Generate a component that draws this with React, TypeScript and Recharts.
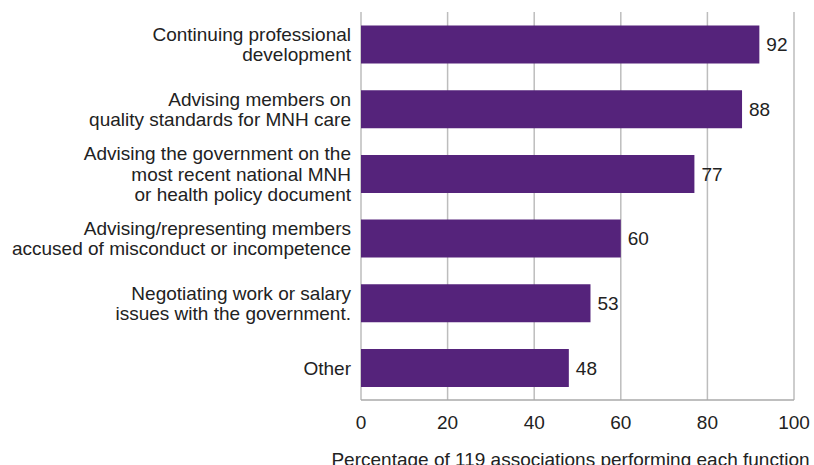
import React from "react";
import { BarChart, Bar, XAxis, YAxis, CartesianGrid, LabelList } from "recharts";

const categories = [
  "Continuing professional\ndevelopment",
  "Advising members on\nquality standards for MNH care",
  "Advising the government on the\nmost recent national MNH\nor health policy document",
  "Advising/representing members\naccused of misconduct or incompetence",
  "Negotiating work or salary\nissues with the government.",
  "Other",
];
const values = [92, 88, 77, 60, 53, 48];
const xTicks = [0, 20, 40, 60, 80, 100];
const axisTitle = "Percentage of 119 associations performing each function";

const data = categories.map((c, i) => ({ name: c, value: values[i] }));

const FONT = "'Liberation Sans', Arial, Helvetica, sans-serif";
const FS = 19;

const YTick = (props: any) => {
  const { x, y, payload } = props;
  const lines: string[] = String(payload.value).split("\n");
  const lh = 20.5;
  const start = -((lines.length - 1) * lh) / 2;
  return (
    <text x={x} y={y} textAnchor="end" fill="#222" fontSize={FS} fontFamily={FONT}>
      {lines.map((l, i) => (
        <tspan key={i} x={x} y={y + start + i * lh} dy="0.36em">
          {l}
        </tspan>
      ))}
    </text>
  );
};

export default function App() {
  return (
    <div style={{ position: "absolute", left: 0, top: 0, width: 814, height: 465, background: "#fff" }}>
      <BarChart
        width={814}
        height={465}
        data={data}
        layout="vertical"
        margin={{ top: 12, right: 20, bottom: 0, left: 0 }}
        barCategoryGap="21%"
      >
        <CartesianGrid horizontal={false} vertical={true} stroke="#bdbdbd" strokeWidth={1.5} />
        <XAxis
          type="number"
          domain={[0, 100]}
          ticks={xTicks}
          axisLine={{ stroke: "#aaa", strokeWidth: 1.5 }}
          tickLine={false}
          tick={{ fill: "#222", fontSize: FS, fontFamily: FONT }}
          tickMargin={10}
          height={65}
          label={{
            value: axisTitle,
            position: "insideBottom",
            offset: -1,
            dx: -7,
            fill: "#222",
            fontSize: FS,
            fontFamily: FONT,
          }}
        />
        <YAxis
          type="category"
          dataKey="name"
          width={361}
          axisLine={false}
          tickLine={false}
          tick={<YTick />}
          tickMargin={4}
          interval={0}
        />
        <Bar dataKey="value" fill="#55237B" isAnimationActive={false}>
          <LabelList
            dataKey="value"
            position="right"
            offset={7}
            fill="#222"
            fontSize={FS}
            fontFamily={FONT}
          />
        </Bar>
      </BarChart>
    </div>
  );
}
